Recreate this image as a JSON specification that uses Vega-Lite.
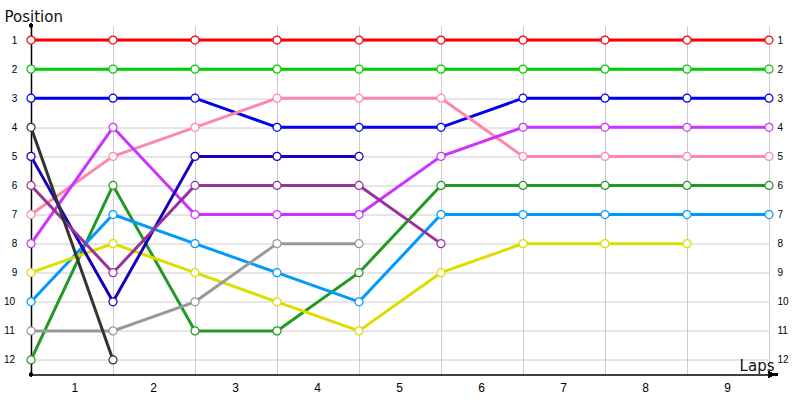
{
  "$schema": "https://vega.github.io/schema/vega-lite/v6.json",
  "width": 738,
  "height": 349,
  "autosize": {"type": "none"},
  "padding": {"left": 31, "top": 25.5, "right": 31, "bottom": 25.5},
  "background": "white",
  "config": {
    "view": {"stroke": null},
    "font": "DejaVu Sans"
  },
  "data": {
    "values": [
      {"driver": "Red", "lap": 0, "pos": 1}, {"driver": "Red", "lap": 1, "pos": 1}, {"driver": "Red", "lap": 2, "pos": 1}, {"driver": "Red", "lap": 3, "pos": 1}, {"driver": "Red", "lap": 4, "pos": 1}, {"driver": "Red", "lap": 5, "pos": 1}, {"driver": "Red", "lap": 6, "pos": 1}, {"driver": "Red", "lap": 7, "pos": 1}, {"driver": "Red", "lap": 8, "pos": 1}, {"driver": "Red", "lap": 9, "pos": 1},
      {"driver": "Green", "lap": 0, "pos": 2}, {"driver": "Green", "lap": 1, "pos": 2}, {"driver": "Green", "lap": 2, "pos": 2}, {"driver": "Green", "lap": 3, "pos": 2}, {"driver": "Green", "lap": 4, "pos": 2}, {"driver": "Green", "lap": 5, "pos": 2}, {"driver": "Green", "lap": 6, "pos": 2}, {"driver": "Green", "lap": 7, "pos": 2}, {"driver": "Green", "lap": 8, "pos": 2}, {"driver": "Green", "lap": 9, "pos": 2},
      {"driver": "Blue", "lap": 0, "pos": 3}, {"driver": "Blue", "lap": 1, "pos": 3}, {"driver": "Blue", "lap": 2, "pos": 3}, {"driver": "Blue", "lap": 3, "pos": 4}, {"driver": "Blue", "lap": 4, "pos": 4}, {"driver": "Blue", "lap": 5, "pos": 4}, {"driver": "Blue", "lap": 6, "pos": 3}, {"driver": "Blue", "lap": 7, "pos": 3}, {"driver": "Blue", "lap": 8, "pos": 3}, {"driver": "Blue", "lap": 9, "pos": 3},
      {"driver": "Pink", "lap": 0, "pos": 7}, {"driver": "Pink", "lap": 1, "pos": 5}, {"driver": "Pink", "lap": 2, "pos": 4}, {"driver": "Pink", "lap": 3, "pos": 3}, {"driver": "Pink", "lap": 4, "pos": 3}, {"driver": "Pink", "lap": 5, "pos": 3}, {"driver": "Pink", "lap": 6, "pos": 5}, {"driver": "Pink", "lap": 7, "pos": 5}, {"driver": "Pink", "lap": 8, "pos": 5}, {"driver": "Pink", "lap": 9, "pos": 5},
      {"driver": "Violet", "lap": 0, "pos": 8}, {"driver": "Violet", "lap": 1, "pos": 4}, {"driver": "Violet", "lap": 2, "pos": 7}, {"driver": "Violet", "lap": 3, "pos": 7}, {"driver": "Violet", "lap": 4, "pos": 7}, {"driver": "Violet", "lap": 5, "pos": 5}, {"driver": "Violet", "lap": 6, "pos": 4}, {"driver": "Violet", "lap": 7, "pos": 4}, {"driver": "Violet", "lap": 8, "pos": 4}, {"driver": "Violet", "lap": 9, "pos": 4},
      {"driver": "DarkGreen", "lap": 0, "pos": 12}, {"driver": "DarkGreen", "lap": 1, "pos": 6}, {"driver": "DarkGreen", "lap": 2, "pos": 11}, {"driver": "DarkGreen", "lap": 3, "pos": 11}, {"driver": "DarkGreen", "lap": 4, "pos": 9}, {"driver": "DarkGreen", "lap": 5, "pos": 6}, {"driver": "DarkGreen", "lap": 6, "pos": 6}, {"driver": "DarkGreen", "lap": 7, "pos": 6}, {"driver": "DarkGreen", "lap": 8, "pos": 6}, {"driver": "DarkGreen", "lap": 9, "pos": 6},
      {"driver": "LightBlue", "lap": 0, "pos": 10}, {"driver": "LightBlue", "lap": 1, "pos": 7}, {"driver": "LightBlue", "lap": 2, "pos": 8}, {"driver": "LightBlue", "lap": 3, "pos": 9}, {"driver": "LightBlue", "lap": 4, "pos": 10}, {"driver": "LightBlue", "lap": 5, "pos": 7}, {"driver": "LightBlue", "lap": 6, "pos": 7}, {"driver": "LightBlue", "lap": 7, "pos": 7}, {"driver": "LightBlue", "lap": 8, "pos": 7}, {"driver": "LightBlue", "lap": 9, "pos": 7},
      {"driver": "Yellow", "lap": 0, "pos": 9}, {"driver": "Yellow", "lap": 1, "pos": 8}, {"driver": "Yellow", "lap": 2, "pos": 9}, {"driver": "Yellow", "lap": 3, "pos": 10}, {"driver": "Yellow", "lap": 4, "pos": 11}, {"driver": "Yellow", "lap": 5, "pos": 9}, {"driver": "Yellow", "lap": 6, "pos": 8}, {"driver": "Yellow", "lap": 7, "pos": 8}, {"driver": "Yellow", "lap": 8, "pos": 8},
      {"driver": "Navy", "lap": 0, "pos": 5}, {"driver": "Navy", "lap": 1, "pos": 10}, {"driver": "Navy", "lap": 2, "pos": 5}, {"driver": "Navy", "lap": 3, "pos": 5}, {"driver": "Navy", "lap": 4, "pos": 5},
      {"driver": "Purple", "lap": 0, "pos": 6}, {"driver": "Purple", "lap": 1, "pos": 9}, {"driver": "Purple", "lap": 2, "pos": 6}, {"driver": "Purple", "lap": 3, "pos": 6}, {"driver": "Purple", "lap": 4, "pos": 6}, {"driver": "Purple", "lap": 5, "pos": 8},
      {"driver": "Gray", "lap": 0, "pos": 11}, {"driver": "Gray", "lap": 1, "pos": 11}, {"driver": "Gray", "lap": 2, "pos": 10}, {"driver": "Gray", "lap": 3, "pos": 8}, {"driver": "Gray", "lap": 4, "pos": 8},
      {"driver": "DarkGray", "lap": 0, "pos": 4}, {"driver": "DarkGray", "lap": 1, "pos": 12}
    ]
  },
  "resolve": {"axis": {"y": "independent"}},
  "layer": [
    {
      "mark": {"type": "line", "strokeWidth": 3},
      "encoding": {
        "x": {
          "field": "lap", "type": "quantitative",
          "scale": {"domain": [0, 9], "nice": false, "zero": false},
          "axis": {
            "values": [0, 1, 2, 3, 4, 5, 6, 7, 8, 9],
            "grid": true, "gridColor": "#cccccc", "gridWidth": 1,
            "domain": true, "domainColor": "#000000", "domainWidth": 1.5,
            "ticks": false, "tickSize": 0,
            "labelExpr": "datum.value < 9 ? '' + (datum.value + 1) : ''",
            "labelOffset": 40, "labelPadding": 8, "labelFontSize": 12, "labelColor": "#000000", "labelFont": "Liberation Sans",
            "title": "Laps", "titleFont": "DejaVu Sans", "titleFontSize": 15, "titleFontWeight": "normal", "titleColor": "#111111",
            "titleAnchor": null, "titleAlign": "right", "titleBaseline": "alphabetic", "titleX": 743, "titleY": -4.5
          }
        },
        "y": {
          "field": "pos", "type": "quantitative",
          "scale": {"domain": [0.5, 12.5], "reverse": true, "nice": false, "zero": false},
          "axis": {
            "orient": "left",
            "values": [1, 2, 3, 4, 5, 6, 7, 8, 9, 10, 11, 12],
            "grid": true, "gridColor": "#cccccc", "gridWidth": 1,
            "domain": true, "domainColor": "#000000", "domainWidth": 1.5,
            "ticks": false, "tickSize": 0,
            "labelAlign": "center",
            "labelPadding": {"condition": {"test": "datum.value >= 10", "value": 22}, "value": 17},
            "labelFontSize": 10, "labelColor": "#000000", "labelFont": "Liberation Sans",
            "title": "Position", "titleFont": "DejaVu Sans", "titleFontSize": 15, "titleFontWeight": "normal", "titleColor": "#111111",
            "titleAngle": 0, "titleAnchor": null, "titleAlign": "left", "titleBaseline": "alphabetic", "titleX": -27, "titleY": -4.5
          }
        },
        "stroke": {
          "field": "driver", "type": "nominal", "legend": null,
          "scale": {
            "domain": ["Red", "Green", "Blue", "Pink", "Violet", "DarkGreen", "LightBlue", "Yellow", "Navy", "Purple", "Gray", "DarkGray"],
            "range": ["#ff0000", "#00cc00", "#0000ee", "#ff88aa", "#cc33ff", "#229922", "#0099ff", "#dddd00", "#1a00bb", "#993399", "#999999", "#333333"]
          }
        },
        "order": {"field": "lap", "type": "quantitative"}
      }
    },
    {
      "mark": {"type": "point", "shape": "circle", "filled": false, "fill": "white", "fillOpacity": 1, "strokeWidth": 1.2, "size": 64, "opacity": 1},
      "encoding": {
        "x": {"field": "lap", "type": "quantitative"},
        "y": {
          "field": "pos", "type": "quantitative",
          "axis": {
            "orient": "right",
            "values": [1, 2, 3, 4, 5, 6, 7, 8, 9, 10, 11, 12],
            "grid": false, "domain": false, "ticks": false, "tickSize": 0,
            "labelAlign": "left", "labelPadding": 8, "labelFontSize": 10, "labelColor": "#000000", "labelFont": "Liberation Sans",
            "title": null
          }
        },
        "stroke": {"field": "driver", "type": "nominal", "legend": null}
      }
    },
    {
      "mark": {"type": "rule", "stroke": "#000000", "strokeWidth": 1.5},
      "encoding": {
        "x": {"datum": 9, "type": "quantitative"},
        "x2": {"datum": 9.11},
        "y": {"datum": 12.5, "type": "quantitative", "axis": null}
      }
    },
    {
      "mark": {"type": "point", "shape": "triangle-right", "filled": true, "fill": "#000000", "stroke": null, "size": 45, "opacity": 1},
      "encoding": {
        "x": {"datum": 9.03, "type": "quantitative"},
        "y": {"datum": 12.5, "type": "quantitative", "axis": null}
      }
    },
    {
      "mark": {"type": "point", "shape": "circle", "filled": true, "fill": "#000000", "size": 12, "opacity": 1},
      "encoding": {
        "x": {"datum": 0, "type": "quantitative"},
        "y": {"datum": 0.5, "type": "quantitative", "axis": null}
      }
    },
    {
      "mark": {"type": "point", "shape": "circle", "filled": true, "fill": "#000000", "size": 12, "opacity": 1},
      "encoding": {
        "x": {"datum": 0, "type": "quantitative"},
        "y": {"datum": 12.5, "type": "quantitative", "axis": null}
      }
    }
  ]
}
